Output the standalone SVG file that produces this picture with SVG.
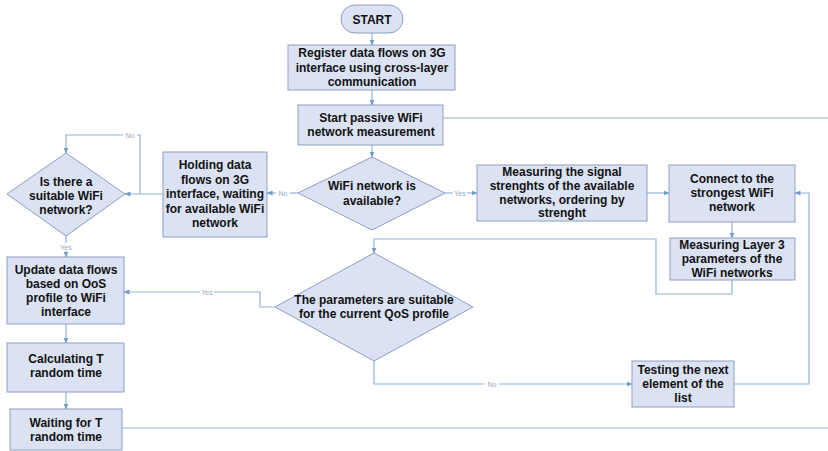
<svg xmlns="http://www.w3.org/2000/svg" width="828" height="451" viewBox="0 0 828 451">
<style>
.box{fill:#dbe2f3;stroke:#8e9fbf;stroke-width:1}
.t{font-family:"Liberation Sans",Arial,sans-serif;font-weight:bold;font-size:12px;fill:#111;text-anchor:middle}
.c{fill:none;stroke:#8fb4d6;stroke-width:1.2}
.lbl{font-family:"Liberation Sans",Arial,sans-serif;font-size:7px;fill:#9aa8b8;text-anchor:middle}
.lb{fill:#fff}
</style>
<defs>
<marker id="ah" viewBox="0 0 6 6" refX="5.5" refY="3" markerWidth="5" markerHeight="5" orient="auto">
<path d="M0,0.5 L6,3 L0,5.5 z" fill="#6f9cc9"/>
</marker>
</defs>
<rect width="828" height="451" fill="#fff"/>
<g id="connectors">
<path class="c" d="M372,33 V45" marker-end="url(#ah)"/>
<path class="c" d="M372,90 V105" marker-end="url(#ah)"/>
<path class="c" d="M443,118 H828"/>
<path class="c" d="M372,145 V157" marker-end="url(#ah)"/>
<path class="c" d="M298,193 H267" marker-end="url(#ah)"/>
<path class="c" d="M445,193 H477" marker-end="url(#ah)"/>
<path class="c" d="M647,193 H669" marker-end="url(#ah)"/>
<path class="c" d="M163,194 H125" marker-end="url(#ah)"/>
<path class="c" d="M140,194 V135 H66 V153" marker-end="url(#ah)"/>
<path class="c" d="M66,236 V257" marker-end="url(#ah)"/>
<path class="c" d="M732,222 V238" marker-end="url(#ah)"/>
<path class="c" d="M732,280 V294 H656 V239 H374 V253" marker-end="url(#ah)"/>
<path class="c" d="M275,307 H260 V292 H124" marker-end="url(#ah)"/>
<path class="c" d="M374,361 V384 H632" marker-end="url(#ah)"/>
<path class="c" d="M734,384 H809 V193 H795" marker-end="url(#ah)"/>
<path class="c" d="M66,324 V343" marker-end="url(#ah)"/>
<path class="c" d="M66,392 V409" marker-end="url(#ah)"/>
<path class="c" d="M122,428 H828"/>
<rect class="lb" x="276" y="189" width="14" height="8"/><text class="lbl" x="283" y="195.5">No</text>
<rect class="lb" x="453" y="189" width="14" height="8"/><text class="lbl" x="460" y="195.5">Yes</text>
<rect class="lb" x="123" y="131" width="14" height="8"/><text class="lbl" x="130" y="137.5">No</text>
<rect class="lb" x="59" y="243" width="14" height="8"/><text class="lbl" x="66" y="249.5">Yes</text>
<rect class="lb" x="200" y="288" width="14" height="8"/><text class="lbl" x="207" y="294.5">Yes</text>
<rect class="lb" x="485" y="380" width="14" height="8"/><text class="lbl" x="492" y="386.5">No</text>
</g>
<g id="start">
<rect class="box" x="341" y="5" width="62" height="28" rx="14"/>
<text class="t" x="372" y="23.5">START</text>
</g>
<g id="register">
<rect class="box" x="288" y="45" width="167" height="45"/>
<text class="t" x="372" y="57">Register data flows on 3G</text>
<text class="t" x="372" y="71.5">interface using cross-layer</text>
<text class="t" x="372" y="86">communication</text>
</g>
<g id="passive">
<rect class="box" x="298" y="105" width="145" height="40"/>
<text class="t" x="371" y="122">Start passive WiFi</text>
<text class="t" x="371" y="136">network measurement</text>
</g>
<g id="available">
<polygon class="box" points="372,157 445,193 372,230 298,193"/>
<text class="t" x="372" y="190">WiFi network is</text>
<text class="t" x="372" y="205">available?</text>
</g>
<g id="holding">
<rect class="box" x="163" y="152" width="104" height="85"/>
<text class="t" x="215" y="169">Holding data</text>
<text class="t" x="215" y="183.5">flows on 3G</text>
<text class="t" x="215" y="198">interface, waiting</text>
<text class="t" x="215" y="212.5">for available WiFi</text>
<text class="t" x="215" y="227">network</text>
</g>
<g id="suitable">
<polygon class="box" points="66,153 125,194 66,236 7,194"/>
<text class="t" x="66" y="186">Is there a</text>
<text class="t" x="66" y="200">suitable WiFi</text>
<text class="t" x="66" y="214">network?</text>
</g>
<g id="measuring">
<rect class="box" x="477" y="165" width="170" height="56"/>
<text class="t" x="562" y="176">Measuring the signal</text>
<text class="t" x="562" y="190">strenghts of the available</text>
<text class="t" x="562" y="204">networks, ordering by</text>
<text class="t" x="562" y="217">strenght</text>
</g>
<g id="connect">
<rect class="box" x="669" y="165" width="126" height="57"/>
<text class="t" x="732" y="183">Connect to the</text>
<text class="t" x="732" y="197">strongest WiFi</text>
<text class="t" x="732" y="211">network</text>
</g>
<g id="layer3">
<rect class="box" x="670" y="238" width="125" height="42"/>
<text class="t" x="732" y="249">Measuring Layer 3</text>
<text class="t" x="732" y="263">parameters of the</text>
<text class="t" x="732" y="277">WiFi networks</text>
</g>
<g id="parameters">
<polygon class="box" points="374,253 473,307 374,361 275,307"/>
<text class="t" x="374" y="304">The parameters are suitable</text>
<text class="t" x="374" y="318">for the current QoS profile</text>
</g>
<g id="testing">
<rect class="box" x="632" y="361" width="102" height="46"/>
<text class="t" x="683" y="374">Testing the next</text>
<text class="t" x="683" y="388">element of the</text>
<text class="t" x="683" y="402">list</text>
</g>
<g id="update">
<rect class="box" x="7" y="257" width="117" height="67"/>
<text class="t" x="66" y="274">Update data flows</text>
<text class="t" x="66" y="288">based on OoS</text>
<text class="t" x="66" y="302">profile to WiFi</text>
<text class="t" x="66" y="316">interface</text>
</g>
<g id="calculating">
<rect class="box" x="7" y="343" width="117" height="49"/>
<text class="t" x="66" y="363">Calculating T</text>
<text class="t" x="66" y="377">random time</text>
</g>
<g id="waiting">
<rect class="box" x="10" y="409" width="112" height="41"/>
<text class="t" x="66" y="427">Waiting for T</text>
<text class="t" x="66" y="441">random time</text>
</g>
</svg>
